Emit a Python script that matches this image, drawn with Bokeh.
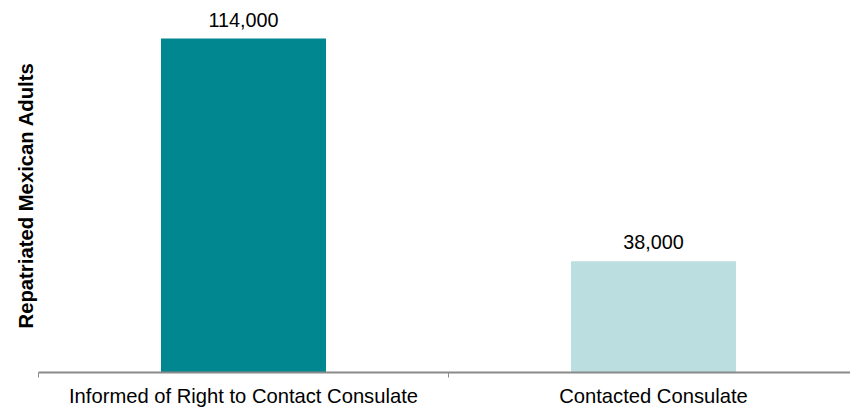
import math
from bokeh.plotting import figure
from bokeh.models import ColumnDataSource, FixedTicker, Range1d, Title, LabelSet
from bokeh.core.properties import value
from bokeh.embed import file_html
from bokeh.resources import INLINE

# ---- data ----
categories = ["Informed of Right to Contact Consulate", "Contacted Consulate"]
values = [114000, 38000]
value_labels = ["114,000", "38,000"]
bar_colors = ["#00878F", "#BBDEE1"]
y_title = "Repatriated Mexican Adults"

centers = [i + 0.5 for i in range(len(categories))]
boundaries = [float(i) for i in range(len(categories) + 1)]

FONT = "Liberation Sans"

source = ColumnDataSource(dict(x=centers, top=values, label=value_labels, color=bar_colors))

frame_w, frame_h = 812, 364
cat_px = 410.0
y_max = max(values) * frame_h / 334.0

p = figure(frame_width=frame_w, frame_height=frame_h, output_backend="svg", toolbar_location=None,
           x_range=Range1d(0, frame_w / cat_px), y_range=Range1d(0, y_max),
           y_axis_location=None, min_border_left=38, min_border_right=0,
           min_border_top=8, min_border_bottom=0)
p.outline_line_color = None
p.xgrid.visible = False
p.ygrid.visible = False
p.background_fill_color = "white"
p.border_fill_color = "white"

p.vbar(x="x", top="top", bottom=0, width=165 / cat_px, color="color", line_color=None, source=source)

labels = LabelSet(x="x", y="top", text="label", source=source, text_align="center",
                  text_baseline="alphabetic", y_offset=12, text_font=value(FONT),
                  text_font_size=value("19.8px"), text_color="#000000")
p.add_layout(labels)

ax = p.xaxis[0]
ax.ticker = FixedTicker(ticks=centers, minor_ticks=boundaries)
ax.major_label_overrides = {c: cat for c, cat in zip(centers, categories)}
ax.axis_line_color = "#8a8a8a"
ax.axis_line_width = 2
ax.major_tick_in = 0
ax.major_tick_out = 0
ax.major_tick_line_color = None
ax.minor_tick_in = 0
ax.minor_tick_out = 5
ax.minor_tick_line_color = "#8a8a8a"
ax.minor_tick_line_width = 1
ax.major_label_text_font = FONT
ax.major_label_text_font_size = "20.2px"
ax.major_label_text_color = "#000000"
ax.major_label_standoff = 7

title = Title(text=y_title, align="left", offset=44, text_font=FONT,
              text_font_style="bold", text_font_size="20.3px", text_color="#000000",
              standoff=4)
p.add_layout(title, "left")

open("out.html", "w").write(file_html(p, INLINE))
